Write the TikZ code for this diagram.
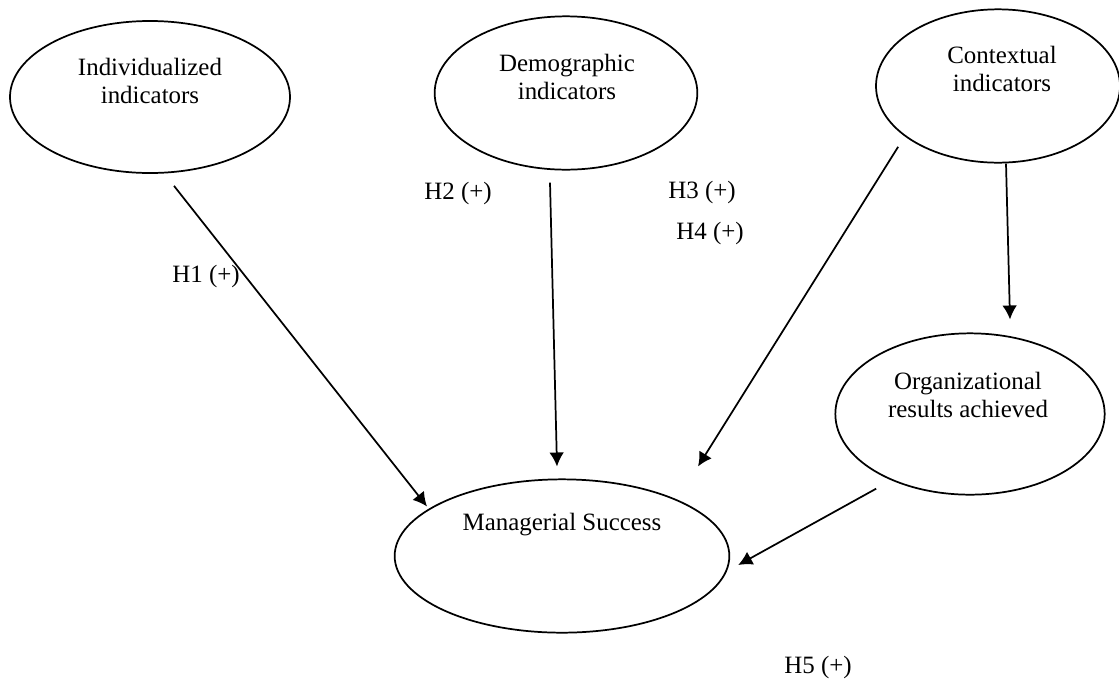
\documentclass[tikz,border=0pt]{standalone}
\usepackage{fontspec}
\setmainfont{Liberation Serif}
\usetikzlibrary{shapes.geometric, arrows.meta}

\begin{document}
\begin{tikzpicture}[>={Latex[length=10.5pt, width=11pt]}, x=0.75pt, y=-0.75pt, line width=1.3pt,
    factor/.style={draw, ellipse, inner sep=0pt},
    txt/.style={align=center, inner sep=0pt, font=\fontsize{18.7}{21}\selectfont}]
    \useasboundingbox (0,0) rectangle (1119,679);
    %\draw [help lines, thin] (0, 0) grid[step=50] (1119, 679);
    \node[factor, minimum width=210pt, minimum height=114pt] (ind) at (150,97) {};
    \node[factor, minimum width=197pt, minimum height=115pt] (dem) at (566,93) {};
    \node[factor, minimum width=183pt, minimum height=115pt] (ctx) at (998,86) {};
    \node[factor, minimum width=202pt, minimum height=121pt] (org) at (970,414) {};
    \node[factor, minimum width=251pt, minimum height=115pt] (mgr) at (562,556) {};
    \node[txt] (indtxt) at ([shift={(0,-16)}]ind.center) {Individualized\\indicators};
    \node[txt] (demtxt) at ([shift={(1,-16)}]dem.center) {Demographic\\indicators};
    \node[txt] (ctxtxt) at ([shift={(4,-17)}]ctx.center) {Contextual\\indicators};
    \node[txt] (orgtxt) at ([shift={(-2,-19)}]org.center) {Organizational\\results achieved};
    \node[txt] (mgrtxt) at ([shift={(0,-31)}]mgr.center) {Managerial Success};
    % hypotheses
    \node[txt] (h1) at (206,276) {H1 (+)};
    \node[txt] (h2) at (458,193) {H2 (+)};
    \node[txt] (h3) at (702,192) {H3 (+)};
    \node[txt] (h4) at (710,233) {H4 (+)};
    \node[txt] (h5) at (818,667) {H5 (+)};
    \draw[->] ([shift={(24,12)}]ind.south) -- ([shift={(-135,28)}]mgr.north);
    \draw[->] ([shift={(-16,12)}]dem.south) -- ([shift={(-5,-12)}]mgr.north);
    \draw[->] ([shift={(-13,6)}]ctx.south west) -- ([shift={(136,-12)}]mgr.north);
    \draw[->] ([shift={(8,0)}]ctx.south) -- ([shift={(40,-13)}]org.north);
    \draw[->] ([shift={(2,17)}]org.south west) -- ([shift={(8,9)}]mgr.east);
\end{tikzpicture}
\end{document}
